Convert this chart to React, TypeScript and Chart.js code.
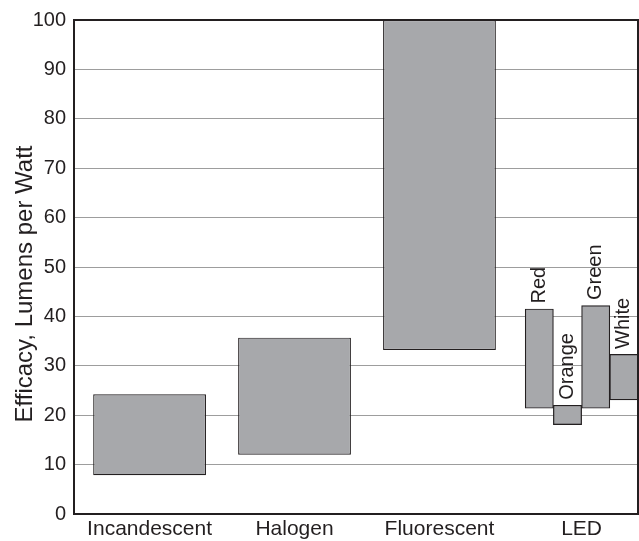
import React, { useEffect, useRef } from 'react';
import { Chart, registerables } from 'chart.js';

Chart.register(...registerables);

// ---- data ----
const categories = ['Incandescent', 'Halogen', 'Fluorescent', 'LED'];
const categoryPositions = [2.68, 7.82, 12.96, 18];
const lampLow = [7.85, 12.0, 33.2];
const lampHigh = [24.25, 35.7, 100];
const ledColours = ['Red', 'Orange', 'Green', 'White'];
const ledPositions = [16.5, 17.5, 18.5, 19.5];
const ledLow = [21.4, 18.1, 21.4, 23.1];
const ledHigh = [41.5, 22.0, 42.2, 32.3];
const xMin = 0;
const xMax = 20;
const yMin = 0;
const yMax = 100;
const yStep = 10;
const yTitle = 'Efficacy, Lumens per Watt';

const FONT = "'Liberation Sans', Arial, Helvetica, sans-serif";
const INK = '#231f20';
const FILL = '#a7a8ab';

const framePlugin = {
  id: 'frame',
  afterDatasetsDraw(chart: any) {
    const { ctx, chartArea: a } = chart;
    ctx.save();
    ctx.strokeStyle = INK;
    ctx.lineWidth = 2;
    ctx.strokeRect(a.left, a.top, a.right - a.left, a.bottom - a.top);
    ctx.restore();
  },
};

const titlePlugin = {
  id: 'yTitleText',
  afterDraw(chart: any) {
    const { ctx } = chart;
    ctx.save();
    ctx.fillStyle = INK;
    ctx.font = `24px ${FONT}`;
    ctx.textAlign = 'center';
    ctx.textBaseline = 'middle';
    ctx.translate(25, 284);
    ctx.rotate(-Math.PI / 2);
    ctx.fillText(yTitle, 0, 0);
    ctx.restore();
  },
};

const ledLabelPlugin = {
  id: 'ledLabels',
  afterDatasetsDraw(chart: any) {
    const meta = chart.getDatasetMeta(1);
    const { ctx } = chart;
    ctx.save();
    ctx.fillStyle = INK;
    ctx.font = `20px ${FONT}`;
    ctx.textAlign = 'left';
    ctx.textBaseline = 'middle';
    meta.data.forEach((el: any, i: number) => {
      const top = Math.min(el.y, el.base);
      ctx.save();
      ctx.translate(el.x, top - 5.5);
      ctx.rotate(-Math.PI / 2);
      ctx.fillText(ledColours[i], 0, 0);
      ctx.restore();
    });
    ctx.restore();
  },
};

export default function App() {
  const ref = useRef<HTMLCanvasElement | null>(null);

  useEffect(() => {
    if (!ref.current) return;
    const lampData = lampLow.map((lo, i) => ({ x: categoryPositions[i], y: [lo, lampHigh[i]] }));
    const ledData = ledLow.map((lo, i) => ({ x: ledPositions[i], y: [lo, ledHigh[i]] }));

    const chart = new Chart(ref.current, {
      type: 'bar',
      data: {
        datasets: [
          {
            data: lampData as any,
            backgroundColor: FILL,
            borderColor: INK,
            borderWidth: 1.2,
            borderSkipped: false,
            grouped: false,
            barPercentage: 4,
            categoryPercentage: 1,
          },
          {
            data: ledData as any,
            backgroundColor: FILL,
            borderColor: INK,
            borderWidth: 1.2,
            borderSkipped: false,
            grouped: false,
            barPercentage: 1,
            categoryPercentage: 1,
          },
        ],
      },
      options: {
        animation: false,
        responsive: false,
        devicePixelRatio: 1,
        layout: { padding: { top: 15, right: 1, bottom: 0, left: 0 } },
        plugins: { legend: { display: false }, tooltip: { enabled: false } },
        scales: {
          x: {
            type: 'linear',
            min: xMin,
            max: xMax,
            offset: false,
            grid: { display: false, drawTicks: false },
            border: { display: false },
            afterBuildTicks: (scale: any) => {
              scale.ticks = categoryPositions.map((v) => ({ value: v }));
            },
            afterFit: (scale: any) => {
              scale.height = 27;
            },
            ticks: {
              autoSkip: false,
              maxRotation: 0,
              padding: 3,
              color: INK,
              font: { family: FONT, size: 21 },
              callback: (_v: any, i: number) => categories[i],
            },
          },
          y: {
            type: 'linear',
            min: yMin,
            max: yMax,
            grid: { color: '#9d9d9d', lineWidth: 1, drawTicks: false },
            border: { display: false },
            afterFit: (scale: any) => {
              scale.width = 74;
            },
            ticks: {
              stepSize: yStep,
              padding: 8,
              color: INK,
              font: { family: FONT, size: 20 },
            },
            title: { display: false },
          },
        },
      },
      plugins: [framePlugin, ledLabelPlugin, titlePlugin],
    });
    return () => chart.destroy();
  }, []);

  return (
    <div style={{ position: 'fixed', left: 0, top: 0, width: 639, height: 541, background: '#fff' }}>
      <canvas ref={ref} width={639} height={541} />
    </div>
  );
}
